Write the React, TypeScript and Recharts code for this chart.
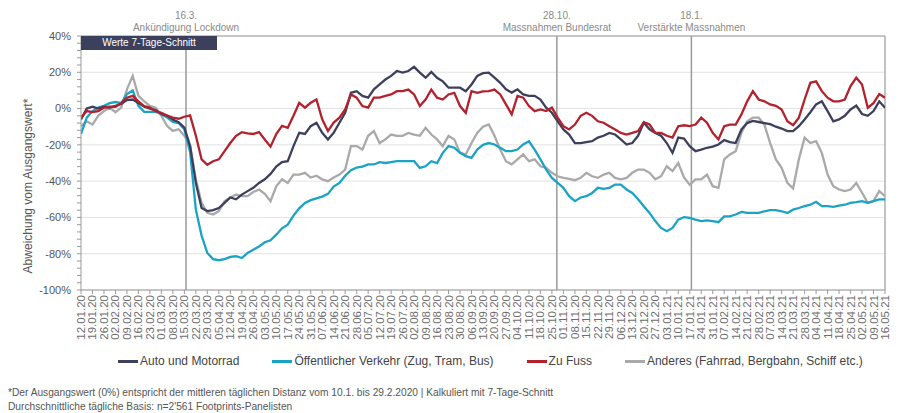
import React from "react";
import { LineChart, Line, XAxis, YAxis, CartesianGrid, ReferenceLine } from "recharts";

// Weekly tick labels (Sundays)
const tickLabels = [
  "12.01.20","19.01.20","26.01.20","02.02.20","09.02.20","16.02.20","23.02.20","01.03.20","08.03.20","15.03.20",
  "22.03.20","29.03.20","05.04.20","12.04.20","19.04.20","26.04.20","03.05.20","10.05.20","17.05.20","24.05.20",
  "31.05.20","07.06.20","14.06.20","21.06.20","28.06.20","05.07.20","12.07.20","19.07.20","26.07.20","02.08.20",
  "09.08.20","16.08.20","23.08.20","30.08.20","06.09.20","13.09.20","20.09.20","27.09.20","04.10.20","11.10.20",
  "18.10.20","25.10.20","01.11.20","08.11.20","15.11.20","22.11.20","29.11.20","06.12.20","13.12.20","20.12.20",
  "27.12.20","03.01.21","10.01.21","17.01.21","24.01.21","31.01.21","07.02.21","14.02.21","21.02.21","28.02.21",
  "07.03.21","14.03.21","21.03.21","28.03.21","04.04.21","11.04.21","18.04.21","25.04.21","02.05.21","09.05.21",
  "16.05.21",
];

// samples every 3.5 days starting at 12.01.20
const STEP_DAYS = 3.5;

const auto = [
  -6, 0, 1, 0, 1, 0.5, 1.5, 2.5, 4.7, 5,
  3, 1, 0, -0.8, -3, -4, -6, -7.5, -10.5, -20.7,
  -41, -54.8, -56.5, -56, -54.8, -52, -49, -50, -47.4, -45.5,
  -43.7, -41, -39, -36, -32, -29.5, -29, -20.7, -13.4, -14,
  -9.7, -7.8, -13.4, -17, -13.4, -7.8, -2.3, 8.7, 9.6, 7,
  6, 10.6, 13.3, 16, 18, 20.7, 19.8, 20.7, 23, 19.8,
  17, 20.2, 17, 15, 11.5, 11.5, 11.5, 9.6, 13.3, 18,
  19.5, 19.8, 17, 14.2, 10.6, 8.8, 10.6, 7.8, 7, 7,
  5, 0.5, -2.3, -7, -11.5, -14.3, -19, -19, -18.5, -18,
  -16, -15, -13.4, -14.3, -17, -19.8, -19, -15, -7.8, -11.4,
  -13.4, -15, -19, -24.4, -16, -16.5, -20.7, -23.5, -22.6, -21.6,
  -21, -19.8, -17.4, -18.5, -19, -11.5, -8, -6.8, -7.4, -8,
  -8.6, -10, -11, -12.4, -12.4, -9.7, -6, -2, 2.3, 4,
  -1.4, -7, -6, -4, -0.5, 1.7, -3, -4, -1.4, 4,
  0.5,
];

const oev = [
  -14, -5, -1.4, 0.5, 1.5, 3, 3.6, 3, 8, 10,
  1.5, -1.8, -1.8, -1.8, -3, -5, -7.4, -8, -11.4, -24,
  -55.7, -70, -79.6, -83, -83.6, -83, -81.8, -81.4, -82.4, -79.6,
  -77.8, -76, -73.7, -72.6, -69.5, -66, -64, -59, -55, -52,
  -50.5, -49.5, -48.5, -47, -43, -41, -37, -34, -32.5, -32,
  -30.8, -30.8, -29.5, -30, -29.5, -29, -29, -29, -29, -32.7,
  -31.8, -29, -30, -24.4, -20.7, -21.6, -24.4, -26.2, -27.2, -22.6,
  -20, -19, -19.8, -21.6, -23.5, -23.5, -22.6, -19.8, -18, -22.6,
  -28, -33.6, -38.2, -41, -43.7, -48.3, -51, -49, -48.3, -46.5,
  -43.7, -44.3, -43.7, -41.9, -41.9, -44.6, -46.5, -50, -53.8, -57.5,
  -62, -65.8, -67.6, -65.8, -61.2, -59.8, -60.3, -61.2, -62, -61.6,
  -62, -62.6, -59.4, -59.4, -58.4, -57, -57.5, -57.5, -57.5, -56.6,
  -56, -56, -56.6, -57.5, -55.7, -54.8, -53.8, -53, -51.4, -53.8,
  -53.8, -54.2, -53.5, -53, -52, -51.6, -51, -52, -51, -50,
  -50,
];

const fuss = [
  -5, -1.4, -2, -1.4, 0.5, 1, 1, 3, 6, 7,
  4, 1.4, 0.5, -1.4, -2.3, -3.8, -5, -5.6, -4.5, -3.8,
  -15, -28, -31, -29, -28, -23.5, -19, -15, -13, -13.7,
  -14, -13, -17, -21, -14, -9.5, -10.6, -4, 3.2, 0.5,
  3.2, 5, -5.9, -12.4, -7.7, -5, -0.5, 7.8, 6, 1.4,
  0.5, 6, 6, 7, 7.8, 9.6, 9.6, 10.5, 7.8, 1.4,
  5, 10.5, 6, 5, 7.8, 8.7, 1.4, -2.3, 9.6, 8.7,
  9.5, 9.6, 10.5, 7.8, 2.3, -3.2, 7, 6, 1.4, -1.4,
  -0.5, -1.4, 0.5, -5, -9.7, -11.5, -8.8, -4, -2.3, -4,
  -7, -7.8, -9.7, -11.5, -13.4, -14.3, -13.4, -12.4, -7.5, -8.8,
  -13.4, -13.4, -15, -16, -9.7, -9.2, -9.7, -8.8, -5, -7.8,
  -13.4, -17, -9.7, -8.8, -8.8, -3.2, 4, 9.6, 5, 4,
  2.3, 1.5, -0.5, -7, -9.2, -5, 5, 14.2, 15, 9.6,
  6, 4, 4, 5, 12.4, 17, 13.3, 0.5, 3, 8,
  6,
];

const anderes = [
  -9.6, -7, -8.8, -4, -1.4, 0.5, -2, 0.5, 10.6, 18,
  7, 4, 1.5, 0.5, -4, -9.6, -12.3, -11.4, -15, -20.6,
  -39, -52, -57.5, -58.4, -56.5, -51, -49, -47.4, -48.3, -48.3,
  -46, -44.6, -47, -51, -42.8, -39, -41, -36.4, -36.4, -35.4,
  -38, -37, -39, -40, -38, -36.4, -33.6, -20.7, -20.7, -22.6,
  -15, -12.4, -19, -17, -14.3, -15, -15, -13.4, -14.3, -15,
  -10.6, -14.3, -17, -20.7, -15, -17, -24.4, -25.3, -19, -13.4,
  -10, -8.8, -15, -22.6, -29, -30.8, -28, -25.3, -29, -28,
  -31.8, -32.7, -35.4, -37.3, -38.2, -38.8, -39.5, -38.2, -35.4, -37.3,
  -38.2, -36.4, -35.4, -38.2, -39, -38.2, -35.4, -33.6, -33.6, -35.4,
  -39, -37.3, -31.8, -34.5, -30, -38, -42, -39, -39, -36.4,
  -42.8, -43.7, -28, -25.3, -23.5, -13.4, -7, -5, -5, -8.8,
  -19, -28, -32.7, -41, -44, -28, -16, -19, -18, -24.4,
  -36.4, -42.8, -44.6, -45.5, -44.6, -41, -46.4, -52, -51, -45.5,
  -48.3,
];

const events = [
  { day: 64, date: "16.3.", text: "Ankündigung Lockdown" },
  { day: 290, date: "28.10.", text: "Massnahmen Bundesrat" },
  { day: 372, date: "18.1.", text: "Verstärkte Massnahmen" },
];

const seriesInfo = [
  { key: "auto", name: "Auto und Motorrad", color: "#3d405c" },
  { key: "oev", name: "Öffentlicher Verkehr (Zug, Tram, Bus)", color: "#1ba3c6" },
  { key: "fuss", name: "Zu Fuss", color: "#b3222c" },
  { key: "anderes", name: "Anderes (Fahrrad, Bergbahn, Schiff etc.)", color: "#a9a9a9" },
];

const yMajor = [-100, -80, -60, -40, -20, 0, 20, 40];
const yMinor: number[] = [];
for (let v = -100; v <= 40; v += 4) yMinor.push(v);

const data = auto.map((_, i) => ({
  day: i * STEP_DAYS,
  auto: auto[i],
  oev: oev[i],
  fuss: fuss[i],
  anderes: anderes[i],
}));

const xTicks = tickLabels.map((_, i) => i * 7);

const FONT = "'Liberation Sans', Arial, sans-serif";

const XTick = (props: any) => {
  const { x, y, payload } = props;
  const label = tickLabels[Math.round(payload.value / 7)];
  return (
    <text
      x={x}
      y={y}
      transform={`rotate(-90, ${x}, ${y})`}
      textAnchor="end"
      dominantBaseline="central"
      fontSize={11.5}
      fill="#6e6e6e"
      fontFamily={FONT}
    >
      {label}
    </text>
  );
};

const EventLabel = (ev: { date: string; text: string }) => (props: any) => {
  const vb = props.viewBox || {};
  const x = vb.x;
  const y = vb.y;
  return (
    <text x={x} y={y - 17} textAnchor="middle" fontSize={10} fill="#8a8a8a" fontFamily={FONT}>
      <tspan x={x}>{ev.date}</tspan>
      <tspan x={x} dy={12}>{ev.text}</tspan>
    </text>
  );
};

const YTitle = (props: any) => {
  const cx = 28;
  const cy = 186;
  return (
    <text
      x={cx}
      y={cy}
      transform={`rotate(-90, ${cx}, ${cy})`}
      textAnchor="middle"
      dominantBaseline="central"
      fontSize={12}
      fill="#555"
      fontFamily={FONT}
    >
      Abweichung vom Ausgangswert*
    </text>
  );
};

export default function App() {
  return (
    <div
      style={{
        position: "absolute",
        left: 0,
        top: 0,
        width: 900,
        height: 413,
        background: "#fff",
        fontFamily: FONT,
        overflow: "hidden",
      }}
    >
      <LineChart
        width={900}
        height={413}
        data={data}
        margin={{ top: 36, right: 15, left: 0, bottom: 63 }}
      >
        <CartesianGrid
          vertical={false}
          horizontalValues={yMajor}
          stroke="#e3e3e3"
          strokeWidth={1}
        />
        <XAxis
          dataKey="day"
          type="number"
          domain={[0, 490]}
          ticks={xTicks}
          interval={0}
          tick={<XTick />}
          tickSize={4}
          tickMargin={1}
          height={60}
          stroke="#9a9a9a"
          allowDataOverflow
        />
        <YAxis
          type="number"
          domain={[-100, 40]}
          ticks={yMinor}
          interval={0}
          width={81}
          tickSize={4}
          tickMargin={6}
          stroke="#9a9a9a"
          tick={{ fontSize: 11, fill: "#555", fontFamily: FONT }}
          tickFormatter={(v: number) => (v % 20 === 0 ? `${v}%` : "")}
          label={<YTitle />}
          allowDataOverflow
        />
        <ReferenceLine y={40} stroke="#9a9a9a" strokeWidth={1.2} />
        <ReferenceLine x={490} stroke="#9a9a9a" strokeWidth={1.2} />
        {events.map((ev) => (
          <ReferenceLine
            key={ev.day}
            x={ev.day}
            stroke="#9a9a9a"
            strokeWidth={1.5}
            label={EventLabel(ev)}
          />
        ))}
        <Line type="linear" dataKey="anderes" stroke="#a9a9a9" strokeWidth={2.3} dot={false} isAnimationActive={false} />
        <Line type="linear" dataKey="oev" stroke="#1ba3c6" strokeWidth={2.3} dot={false} isAnimationActive={false} />
        <Line type="linear" dataKey="auto" stroke="#3d405c" strokeWidth={2.3} dot={false} isAnimationActive={false} />
        <Line type="linear" dataKey="fuss" stroke="#b3222c" strokeWidth={2.3} dot={false} isAnimationActive={false} />
      </LineChart>

      <div
        style={{
          position: "absolute",
          left: 81,
          top: 36,
          width: 136,
          height: 14,
          background: "#3d405c",
          color: "#fff",
          fontSize: 10,
          lineHeight: "14px",
          textAlign: "center",
        }}
      >
        Werte 7-Tage-Schnitt
      </div>

      <div
        style={{
          position: "absolute",
          left: 118,
          top: 354,
          display: "flex",
          alignItems: "center",
          whiteSpace: "nowrap",
          fontSize: 12,
          lineHeight: "14px",
          color: "#444",
        }}
      >
        {seriesInfo.map((s, i) => (
          <div key={s.key} style={{ display: "flex", alignItems: "center", marginLeft: i === 0 ? 0 : 33 }}>
            <span style={{ display: "inline-block", width: 20, height: 3, background: s.color, marginRight: 2 }} />
            <span>{s.name}</span>
          </div>
        ))}
      </div>

      <div
        style={{
          position: "absolute",
          left: 8,
          top: 386,
          fontSize: 10.2,
          lineHeight: "14px",
          color: "#555",
          whiteSpace: "nowrap",
        }}
      >
        <div>*Der Ausgangswert (0%) entspricht der mittleren täglichen Distanz vom 10.1. bis 29.2.2020 | Kalkuliert mit 7-Tage-Schnitt</div>
        <div>Durchschnittliche tägliche Basis: n=2'561 Footprints-Panelisten</div>
      </div>
    </div>
  );
}
